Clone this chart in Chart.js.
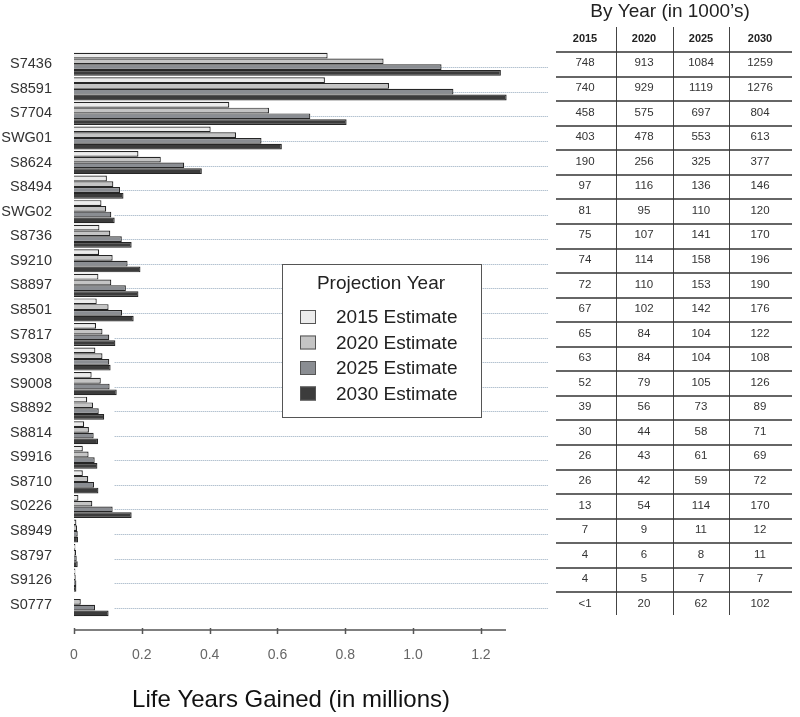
<!DOCTYPE html>
<html>
<head>
<meta charset="utf-8">
<script src="https://cdn.jsdelivr.net/npm/chart.js@4.4.0/dist/chart.umd.min.js"></script>
<style>
  html, body { margin: 0; padding: 0; background: #fff; }
  #wrap { width: 800px; height: 717px; }
</style>
</head>
<body>
<div id="wrap"><canvas id="chart" width="800" height="717"></canvas></div>
<script>
// values in 1000's of life years
const sites = ["S7436", "S8591", "S7704", "SWG01", "S8624", "S8494", "SWG02", "S8736", "S9210", "S8897", "S8501", "S7817",
  "S9308", "S9008", "S8892", "S8814", "S9916", "S8710", "S0226", "S8949", "S8797", "S9126", "S0777"];
const est2015 = [748, 740, 458, 403, 190, 97, 81, 75, 74, 72, 67, 65, 63, 52, 39, 30, 26, 26, 13, 7, 4, 4, 0.5];
const est2020 = [913, 929, 575, 478, 256, 116, 95, 107, 114, 110, 102, 84, 84, 79, 56, 44, 43, 42, 54, 9, 6, 5, 20];
const est2025 = [1084, 1119, 697, 553, 325, 136, 110, 141, 158, 153, 142, 104, 104, 105, 73, 58, 61, 59, 114, 11, 8, 7, 62];
const est2030 = [1259, 1276, 804, 613, 377, 146, 120, 170, 196, 190, 176, 122, 108, 126, 89, 71, 69, 72, 170, 12, 11, 7, 102];
const years = ["2015", "2020", "2025", "2030"];
const seriesNames = ["2015 Estimate", "2020 Estimate", "2025 Estimate", "2030 Estimate"];
const xTicks = [0, 0.2, 0.4, 0.6, 0.8, 1.0, 1.2];

const series = [est2015, est2020, est2025, est2030];
const fills = ["#ececec", "#c4c4c4", "#8a8d92", "#3c3c3c"];
const FONT = "'Liberation Sans', Arial, sans-serif";

const fmtCell = v => (v < 1 ? "<1" : String(v));

const extras = {
  id: "extras",
  beforeDatasetsDraw(chart) {
    const { ctx, scales: { x, y } } = chart;
    ctx.save();
    // dotted guide lines from bars to the table
    ctx.strokeStyle = "#93a8bc";
    ctx.lineWidth = 1;
    ctx.setLineDash([1, 1]);
    sites.forEach((s, i) => {
      const yy = Math.round(y.getPixelForValue(i) + 3) + 0.5;
      ctx.beginPath();
      ctx.moveTo(x.getPixelForValue(0.12), yy);
      ctx.lineTo(548, yy);
      ctx.stroke();
    });
    ctx.restore();
  },
  afterDraw(chart) {
    const { ctx, chartArea, scales: { x, y } } = chart;
    ctx.save();

    // x axis line + tick marks, set a bit below the bars
    const axY = chartArea.bottom + 13;
    ctx.strokeStyle = "#555";
    ctx.lineWidth = 1.5;
    ctx.beginPath();
    ctx.moveTo(chartArea.left, axY);
    ctx.lineTo(chartArea.right - 2, axY);
    ctx.stroke();
    xTicks.forEach(t => {
      const px = Math.round(x.getPixelForValue(t)) + 0.5;
      ctx.beginPath();
      ctx.moveTo(px, axY - 2);
      ctx.lineTo(px, axY + 4);
      ctx.stroke();
    });

    // legend box
    ctx.fillStyle = "#fff";
    ctx.fillRect(282, 264, 199, 153);
    ctx.strokeStyle = "#555";
    ctx.lineWidth = 1;
    ctx.strokeRect(282.5, 264.5, 199, 153);
    ctx.fillStyle = "#222";
    ctx.font = "19px " + FONT;
    ctx.textBaseline = "middle";
    ctx.textAlign = "center";
    ctx.fillText("Projection Year", 381, 284);
    ctx.textAlign = "left";
    seriesNames.forEach((name, k) => {
      const cy = 317 + k * 25.5;
      ctx.fillStyle = fills[k];
      ctx.fillRect(300, cy - 7, 16, 14);
      ctx.strokeStyle = "#555";
      ctx.strokeRect(300.5, cy - 6.5, 15, 13);
      ctx.fillStyle = "#222";
      ctx.fillText(name, 336, cy + 1);
    });

    // table on the right
    const colX = [585, 644, 701, 760];
    const sepX = [616, 673, 729];
    ctx.fillStyle = "#222";
    ctx.textAlign = "center";
    ctx.font = "19px " + FONT;
    ctx.fillText("By Year (in 1000\u2019s)", 670, 12);
    ctx.font = "bold 11px " + FONT;
    years.forEach((yr, c) => ctx.fillText(yr, colX[c], 39));

    ctx.strokeStyle = "#444";
    ctx.lineWidth = 1;
    sepX.forEach(sx => {
      ctx.beginPath();
      ctx.moveTo(sx + 0.5, 27);
      ctx.lineTo(sx + 0.5, 615);
      ctx.stroke();
    });
    const step = y.getPixelForValue(1) - y.getPixelForValue(0);
    ctx.strokeStyle = "#333";
    ctx.lineWidth = 1.5;
    for (let i = -1; i < sites.length - 1; i++) {
      const ly = Math.round(y.getPixelForValue(i) + step / 2);
      ctx.beginPath();
      ctx.moveTo(556, ly);
      ctx.lineTo(792, ly);
      ctx.stroke();
    }
    ctx.font = "11.5px " + FONT;
    ctx.fillStyle = "#333";
    sites.forEach((s, i) => {
      const cy = y.getPixelForValue(i) - 1;
      series.forEach((arr, c) => ctx.fillText(fmtCell(arr[i]), colX[c], cy));
    });

    ctx.restore();
  }
};

new Chart(document.getElementById("chart"), {
  type: "bar",
  data: {
    labels: sites,
    datasets: series.map((arr, k) => ({
      label: seriesNames[k],
      data: arr.map(v => v / 1000),
      backgroundColor: fills[k],
      borderColor: "#262626",
      borderWidth: 1.2,
      categoryPercentage: 0.94,
      barPercentage: 1.0
    }))
  },
  options: {
    indexAxis: "y",
    responsive: false,
    animation: false,
    layout: { padding: { top: 52, right: 292, bottom: 0, left: 0 } },
    plugins: {
      legend: { display: false },
      tooltip: { enabled: false }
    },
    scales: {
      x: {
        min: 0,
        max: 1.28,
        grid: { display: false, drawTicks: false },
        border: { display: false },
        afterFit: s => { s.height = 100; },
        ticks: {
          stepSize: 0.2,
          includeBounds: false,
          padding: 30,
          color: "#666",
          font: { family: FONT, size: 14 },
          callback: v => (v === 0 ? "0" : Number(v).toFixed(1))
        },
        title: {
          display: true,
          text: "Life Years Gained (in millions)",
          color: "#111",
          font: { family: FONT, size: 24 },
          padding: { top: 0, bottom: 2 }
        }
      },
      y: {
        grid: { display: false, drawTicks: false },
        border: { display: false },
        afterFit: s => { s.width = 74; },
        ticks: {
          padding: 22,
          color: "#333",
          font: { family: FONT, size: 14.5 }
        }
      }
    }
  },
  plugins: [extras]
});
</script>
</body>
</html>
